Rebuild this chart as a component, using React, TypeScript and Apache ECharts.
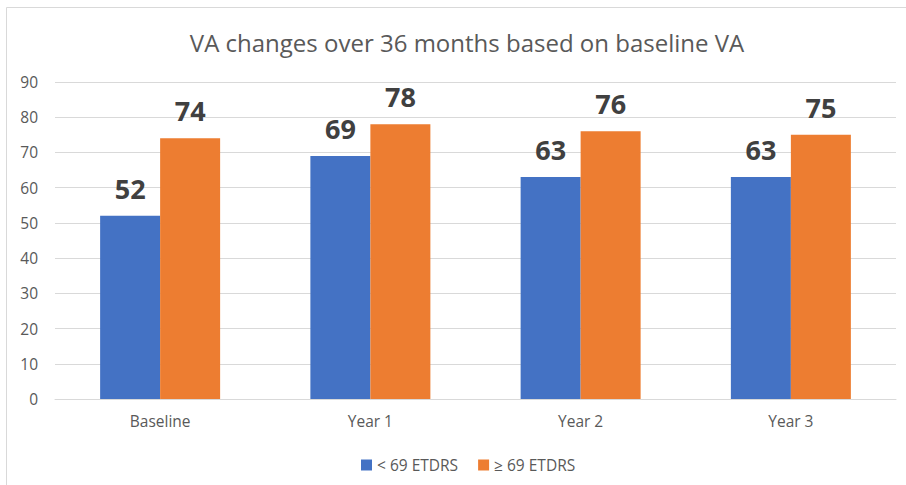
import React, { useEffect, useRef } from "react";
import * as echarts from "echarts";

const categories = ["Baseline", "Year 1", "Year 2", "Year 3"];
const seriesNames = ["< 69 ETDRS", "≥ 69 ETDRS"];
const below69 = [52, 69, 63, 63];
const above69 = [74, 78, 76, 75];
const colors = ["#4472C4", "#ED7D31"];

const FONT = "'Open Sans', 'Noto Sans', sans-serif";

export default function App() {
  const ref = useRef<HTMLDivElement>(null);
  useEffect(() => {
    if (!ref.current) return;
    const chart = echarts.init(ref.current, null, { renderer: "svg" });
    const label = {
      show: true,
      position: "top",
      distance: 14,
      color: "#404040",
      fontSize: 27,
      fontWeight: "bold",
      fontFamily: FONT,
    };
    chart.setOption({
      animation: false,
      backgroundColor: "#ffffff",
      title: {
        text: "VA changes over 36 months based on baseline VA",
        left: 462,
        top: 25,
        textAlign: "center",
        textStyle: { fontFamily: FONT, fontSize: 24, fontWeight: "normal", color: "#595959" },
      },
      graphic: [
        {
          type: "rect",
          shape: { x: 6.5, y: 7.5, width: 1000, height: 1000 },
          style: { fill: "none", stroke: "#D9D9D9", lineWidth: 1 },
          silent: true,
        },
      ],
      legend: {
        data: seriesNames,
        left: 356,
        top: 452,
        icon: "rect",
        itemWidth: 11,
        itemHeight: 11,
        itemGap: 20,
        textStyle: { fontFamily: FONT, fontSize: 15.5, color: "#595959" },
      },
      grid: { left: 55, right: 10, top: 82, bottom: 86, containLabel: false },
      xAxis: {
        type: "category",
        data: categories,
        axisLine: { lineStyle: { color: "#D9D9D9" } },
        axisTick: { show: false },
        axisLabel: { fontFamily: FONT, fontSize: 15.5, color: "#595959", margin: 14 },
      },
      yAxis: {
        type: "value",
        min: 0,
        max: 90,
        interval: 10,
        axisLine: { show: false },
        axisTick: { show: false },
        splitLine: { lineStyle: { color: "#D9D9D9" } },
        axisLabel: { fontFamily: FONT, fontSize: 15.5, color: "#595959", margin: 17 },
      },
      series: [
        {
          name: seriesNames[0],
          type: "bar",
          data: below69,
          barWidth: 60,
          barGap: "0%",
          itemStyle: { color: colors[0] },
          label,
        },
        {
          name: seriesNames[1],
          type: "bar",
          data: above69,
          barWidth: 60,
          barGap: "0%",
          itemStyle: { color: colors[1] },
          label,
        },
      ],
    });
    return () => chart.dispose();
  }, []);
  return (
    <div
      ref={ref}
      style={{ position: "fixed", left: 0, top: 0, width: 906, height: 485, background: "#fff" }}
    />
  );
}
